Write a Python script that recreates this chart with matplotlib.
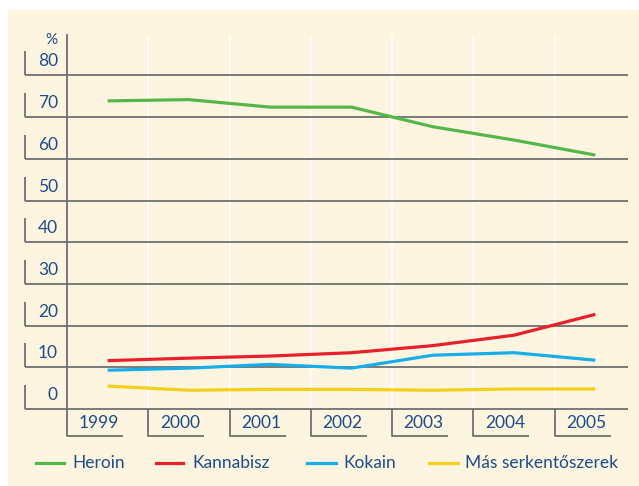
import matplotlib.pyplot as plt
from matplotlib.patches import Rectangle
from matplotlib.lines import Line2D

years = ["1999", "2000", "2001", "2002", "2003", "2004", "2005"]
heroin = [73.9, 74.2, 72.4, 72.4, 67.7, 64.5, 60.9]
kannabisz = [11.6, 12.2, 12.7, 13.5, 15.2, 17.7, 22.7]
kokain = [9.3, 9.8, 10.7, 9.8, 12.9, 13.5, 11.7]
mas = [5.5, 4.5, 4.7, 4.7, 4.5, 4.8, 4.8]
yticks = [0, 10, 20, 30, 40, 50, 60, 70, 80]

series = [("Heroin", heroin, "#55b64a"),
          ("Kannabisz", kannabisz, "#e8202a"),
          ("Kokain", kokain, "#17ade8"),
          ("Más serkentőszerek", mas, "#f4d01c")]

W, H = 639, 486
BG = "#fef5e1"
GRAY = "#6f6f6f"
TXT = "#1b4d8a"
plt.rcParams['font.family'] = ['Lato', 'DejaVu Sans']

fig = plt.figure(figsize=(W / 100, H / 100), dpi=100)
fig.patch.set_facecolor("white")
fig.add_artist(Rectangle((8 / W, 0), 1, 1 - 10 / H, transform=fig.transFigure,
                         facecolor=BG, edgecolor="none", zorder=0))

# axes area in pixels: x 67..636, y 35..409
ax = fig.add_axes([67 / W, 1 - 409 / H, 569 / W, 374 / H])
ax.set_facecolor(BG)
ax.patch.set_alpha(0)
ax.set_xlim(-0.5, 6.5)
ax.set_ylim(0, 89.7)
for s in ["top", "right", "bottom"]:
    ax.spines[s].set_visible(False)
ax.spines["left"].set_color(GRAY)
ax.spines["left"].set_linewidth(1.3)
ax.set_xticks([])
ax.set_yticks([])

xpx = 569 / 7.0  # pixels per category
upx = 374 / 89.7  # pixels per unit

# white vertical separators
for i in range(1, 7):
    ax.axvline(i - 0.5, color="white", lw=1.2, zorder=1)

# horizontal lines with bracket tick labels
ytr = ax.get_yaxis_transform()
x0 = (25 - 67) / 569
x1 = (628 - 67) / 569
for v in yticks:
    ax.plot([x0, x1], [v, v], color=GRAY, lw=1.3, transform=ytr,
            clip_on=False, zorder=2, solid_capstyle="butt")
    ax.plot([x0, x0], [v, v + 24 / upx], color=GRAY, lw=1.3, transform=ytr,
            clip_on=False, zorder=2, solid_capstyle="butt")
    ax.text((58 - 67) / 569, v + 14 / upx, str(v), transform=ytr,
            ha="right", va="center", fontsize=12.5, color=TXT)
ax.text((58 - 67) / 569, 89.7 - 5 / upx, "%", transform=ytr,
        ha="right", va="center", fontsize=11, color=TXT)

# x bracket labels
xtr = ax.get_xaxis_transform()
ybot = -26.7 / 374
for i, yr in enumerate(years):
    xl = i - 0.5
    ax.plot([xl, xl, xl + 56 / xpx], [0, ybot, ybot], color=GRAY, lw=1.3,
            transform=xtr, clip_on=False, zorder=2, solid_capstyle="butt")
    ax.text(xl + 31.5 / xpx, -14 / 374, yr, transform=xtr, ha="center",
            va="center", fontsize=12.5, color=TXT)

# data lines
for name, vals, col in series:
    ax.plot(range(len(years)), vals, color=col, lw=2.3, zorder=3,
            solid_capstyle="butt", solid_joinstyle="round")

# legend drawn by hand along the bottom
leg = [(36, 64, 72), (156, 183, 192), (307, 336, 343), (429, 458, 465)]
ly = 1 - 463 / H
for (a, b, t), (name, vals, col) in zip(leg, series):
    fig.add_artist(Line2D([a / W, b / W], [ly, ly], color=col, lw=2.3,
                          transform=fig.transFigure))
    fig.text(t / W, ly, name, ha="left", va="center", fontsize=12.5, color=TXT)

fig.savefig("out.png", dpi=100)
